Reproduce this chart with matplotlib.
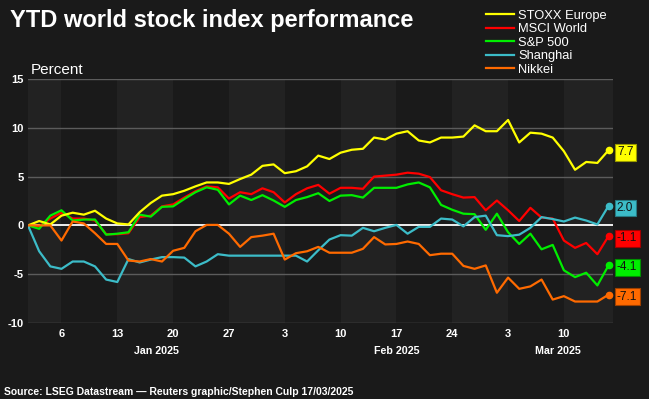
import numpy as np
import matplotlib
matplotlib.use("Agg")
import matplotlib.pyplot as plt

plt.rcParams['font.family'] = ['Liberation Sans', 'DejaVu Sans']
plt.rcParams['axes.unicode_minus'] = False

# trading days from 31 Dec 2024 to 14 Mar 2025, weekly ticks on Mondays
tick_pos = [3, 8, 13, 18, 23, 28, 33, 38, 43, 48]
tick_labels = ['6', '13', '20', '27', '3', '10', '17', '24', '3', '10']
month_pos = [11.5, 33, 47.5]
month_labels = ['Jan 2025', 'Feb 2025', 'Mar 2025']

names = ['STOXX Europe', 'MSCI World', 'S&P 500', 'Shanghai', 'Nikkei']
colors = ['#ffff00', '#ff0000', '#00ee00', '#3cbcc8', '#ff6a00']
edge_colors = ['#9a9a00', '#a00000', '#009000', '#267a82', '#a04000']

stoxx = [0, 0.45, 0.1, 1.0, 1.3, 1.1, 1.5, 0.7, 0.2, 0.1, 1.35, 2.3, 3.05,
         3.2, 3.55, 4.0, 4.4, 4.4, 4.25, 4.75, 5.2, 6.1, 6.25, 5.35, 5.55, 6.05, 7.15,
         6.8, 7.45, 7.75, 7.85, 9.0, 8.8, 9.4, 9.65, 8.7, 8.5, 9.0, 9.0, 9.1,
         10.25, 9.65, 9.65, 10.8, 8.5, 9.5, 9.4, 9.0, 7.6, 5.7, 6.5, 6.4, 7.7]
msci = [0, -0.1, 0.7, 1.3, 0.7, 0.7, 0.5, -0.9, -0.9, -0.8, 0.85, 1.0, 1.95,
        2.15, 2.85, 3.5, 4.0, 3.9, 2.75, 3.4, 3.2, 3.8, 3.4, 2.35, 3.2, 3.8, 4.15,
        3.25, 3.85, 3.85, 3.75, 5.0, 5.1, 5.2, 5.4, 5.3, 4.95, 3.6, 3.2, 2.85,
        2.9, 1.55, 2.55, 1.55, 0.45, 1.8, 0.8, 0.7, -1.55, -2.3, -1.8, -2.95, -1.1]
sp500 = [0, -0.35, 1.0, 1.55, 0.5, 0.6, 0.6, -0.95, -0.85, -0.7, 1.1, 0.9, 1.9,
         1.95, 2.7, 3.4, 3.9, 3.65, 2.15, 3.05, 2.6, 3.1, 2.55, 1.9, 2.6, 2.9, 3.3,
         2.5, 3.05, 3.1, 2.85, 3.85, 3.85, 3.85, 4.2, 4.4, 3.9, 2.1, 1.6, 1.2,
         1.15, -0.45, 1.2, -0.7, -1.9, -0.85, -2.45, -2.0, -4.6, -5.3, -4.85, -6.15, -4.1]
shanghai = [0, -2.65, -4.2, -4.45, -3.7, -3.7, -4.2, -5.55, -5.8, -3.45, -3.8, -3.5, -3.25,
            -3.25, -3.3, -4.2, -3.7, -2.95, -3.1, -3.1, -3.1, -3.1, -3.1, -3.1, -3.1, -3.7, -2.55,
            -1.45, -1.0, -1.05, -0.25, -0.6, -0.25, 0.05, -0.85, -0.15, -0.15, 0.7, 0.6, -0.1,
            0.85, 1.0, -1.0, -1.1, -0.95, -0.25, 0.85, 0.65, 0.4, 0.8, 0.5, 0.1, 2.0]
nikkei = [0, 0, 0, -1.55, 0.4, 0.2, -0.8, -1.9, -1.9, -3.6, -3.7, -3.45, -3.7,
          -2.6, -2.3, -0.6, 0.05, 0.05, -0.85, -2.2, -1.2, -1.05, -0.85, -3.5, -2.85, -2.65, -2.2,
          -2.8, -2.8, -2.8, -2.4, -1.2, -1.95, -1.9, -1.65, -1.9, -3.05, -2.9, -2.9, -4.15,
          -4.45, -4.1, -6.9, -5.35, -6.5, -6.25, -5.55, -7.6, -7.25, -7.8, -7.8, -7.8, -7.1]

series = [stoxx, msci, sp500, shanghai, nikkei]
zorders = [5, 3, 4, 6, 7]

bg = '#1a1a1a'
fig = plt.figure(figsize=(6.49, 3.99), dpi=100, facecolor=bg)
ax = fig.add_axes([28 / 649, 76 / 399, 585 / 649, 244 / 399])
ax.set_facecolor(bg)
ax.set_xlim(0, 52.4)
ax.set_ylim(-10, 15)

# alternating weekly bands
edges = [0] + tick_pos + [52.4]
for k in range(0, len(edges) - 1, 2):
    ax.axvspan(edges[k], edges[k + 1], color='#222222', lw=0, zorder=0)

for y in [-10, -5, 5, 10, 15]:
    ax.axhline(y, color='#5c5c5c', lw=1, zorder=1)
ax.axhline(0, color='white', lw=1.3, zorder=2)

x = np.arange(len(stoxx))
for name, vals, c, ec, z in zip(names, series, colors, edge_colors, zorders):
    ax.plot(x, vals, color=c, lw=1.6, label=name, zorder=z)
    ax.plot(x[-1], vals[-1], 'o', color=c, ms=4.5, zorder=z, clip_on=False)
    ax.annotate(f'{vals[-1]:.1f}', xy=(x[-1], vals[-1]), xytext=(6, -1.5),
                textcoords='offset points', ha='left', va='center',
                fontsize=8.5, color='#111111',
                bbox=dict(boxstyle='square,pad=0.2', fc=c, ec=ec, lw=0.8))

for s in ax.spines.values():
    s.set_visible(False)
ax.set_yticks([-10, -5, 0, 5, 10, 15])
ax.set_xticks(tick_pos)
ax.set_xticklabels(tick_labels)
ax.tick_params(length=0, labelcolor='white', labelsize=8)
ax.tick_params(axis='y', pad=3)
ax.tick_params(axis='x', pad=4)
for lab in ax.get_xticklabels() + ax.get_yticklabels():
    lab.set_fontweight('bold')

for xp, txt in zip(month_pos, month_labels):
    ax.text(xp, -0.115, txt, transform=ax.get_xaxis_transform(), ha='center',
            va='center', fontsize=7.7, fontweight='bold', color='white')

fig.text(10 / 649, 1 - 27 / 399, 'YTD world stock index performance', fontsize=17,
         fontweight='bold', color='white', va='baseline')
fig.text(31 / 649, 1 - 74 / 399, 'Percent', fontsize=11, color='white', va='baseline')
fig.text(4 / 649, 1 - 392 / 399, 'Source: LSEG Datastream \u2014 Reuters graphic/Stephen Culp 17/03/2025',
         fontsize=7.5, fontweight='bold', color='white', va='center')

handles, labels = ax.get_legend_handles_labels()
fig.legend(handles, labels,
           loc='upper left', bbox_to_anchor=(486 / 649, 1 - 9.5 / 399),
           frameon=False, fontsize=9.3, labelcolor='white', handlelength=2.2,
           handletextpad=0.3, labelspacing=0.12, borderpad=0, borderaxespad=0)

fig.savefig('out.png', dpi=100, facecolor=bg)
